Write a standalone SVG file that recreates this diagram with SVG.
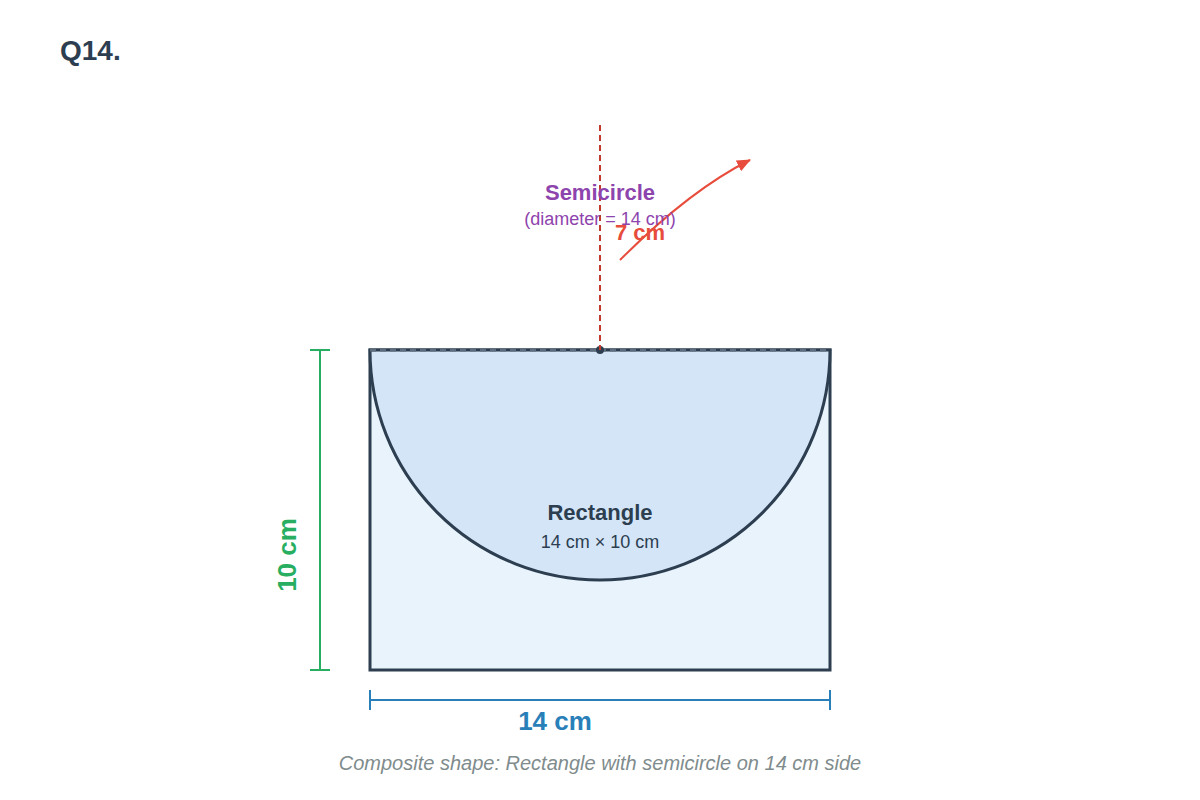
<svg xmlns="http://www.w3.org/2000/svg" width="1200" height="800" viewBox="0 0 1200 800">
<style>
text{font-family:"Liberation Sans",Arial,sans-serif}
.b{font-weight:bold}
.shape{stroke:#2c3e50;stroke-width:3}
</style>
<defs>
<marker id="ah" markerWidth="14" markerHeight="12" refX="13" refY="6" orient="auto" markerUnits="userSpaceOnUse" viewBox="0 0 14 12"><path d="M0,0 L14,6 L0,12 z" fill="#e74c3c"/></marker>
</defs>
<rect width="1200" height="800" fill="#ffffff"/>
<text x="60" y="60" class="b" font-size="28" fill="#2c3e50">Q14.</text>
<g id="rectangle">
<rect x="370" y="350" width="460" height="320" fill="#e8f3fc" class="shape"/>
</g>
<g id="semicircle">
<path d="M370,350 A230,230 0 0 0 830,350 Z" fill="#d4e5f7" class="shape"/>
<line x1="370" y1="350" x2="830" y2="350" stroke="#5d6d7e" stroke-width="3" stroke-dasharray="6,4"/>
<circle cx="600" cy="350" r="4" fill="#2c3e50"/>
</g>
<g id="connectors">
<line x1="600" y1="125" x2="600" y2="350" stroke="#c0392b" stroke-width="2" stroke-dasharray="6,4"/>
<path d="M620,260 Q690,190 750,160" fill="none" stroke="#e74c3c" stroke-width="2" marker-end="url(#ah)"/>
<g stroke="#27ae60" stroke-width="2">
<line x1="320" y1="350" x2="320" y2="670"/>
<line x1="310" y1="350" x2="330" y2="350"/>
<line x1="310" y1="670" x2="330" y2="670"/>
</g>
<g stroke="#2980b9" stroke-width="2">
<line x1="370" y1="700" x2="830" y2="700"/>
<line x1="370" y1="690" x2="370" y2="710"/>
<line x1="830" y1="690" x2="830" y2="710"/>
</g>
</g>
<g id="labels">
<text x="600" y="200" text-anchor="middle" class="b" font-size="22" fill="#8e44ad">Semicircle</text>
<text x="600" y="225" text-anchor="middle" font-size="18" fill="#8e44ad">(diameter = 14 cm)</text>
<text x="640" y="240" text-anchor="middle" class="b" font-size="22" fill="#e74c3c">7 cm</text>
<text x="600" y="520" text-anchor="middle" class="b" font-size="22" fill="#2c3e50">Rectangle</text>
<text x="600" y="548" text-anchor="middle" font-size="18" fill="#2c3e50">14 cm × 10 cm</text>
<text transform="translate(296,555) rotate(-90)" text-anchor="middle" class="b" font-size="26" fill="#27ae60">10 cm</text>
<text x="555" y="730" text-anchor="middle" class="b" font-size="26" fill="#2980b9">14 cm</text>
<text x="600" y="770" text-anchor="middle" font-style="italic" font-size="20" fill="#7f8c8d">Composite shape: Rectangle with semicircle on 14 cm side</text>
</g>
</svg>
